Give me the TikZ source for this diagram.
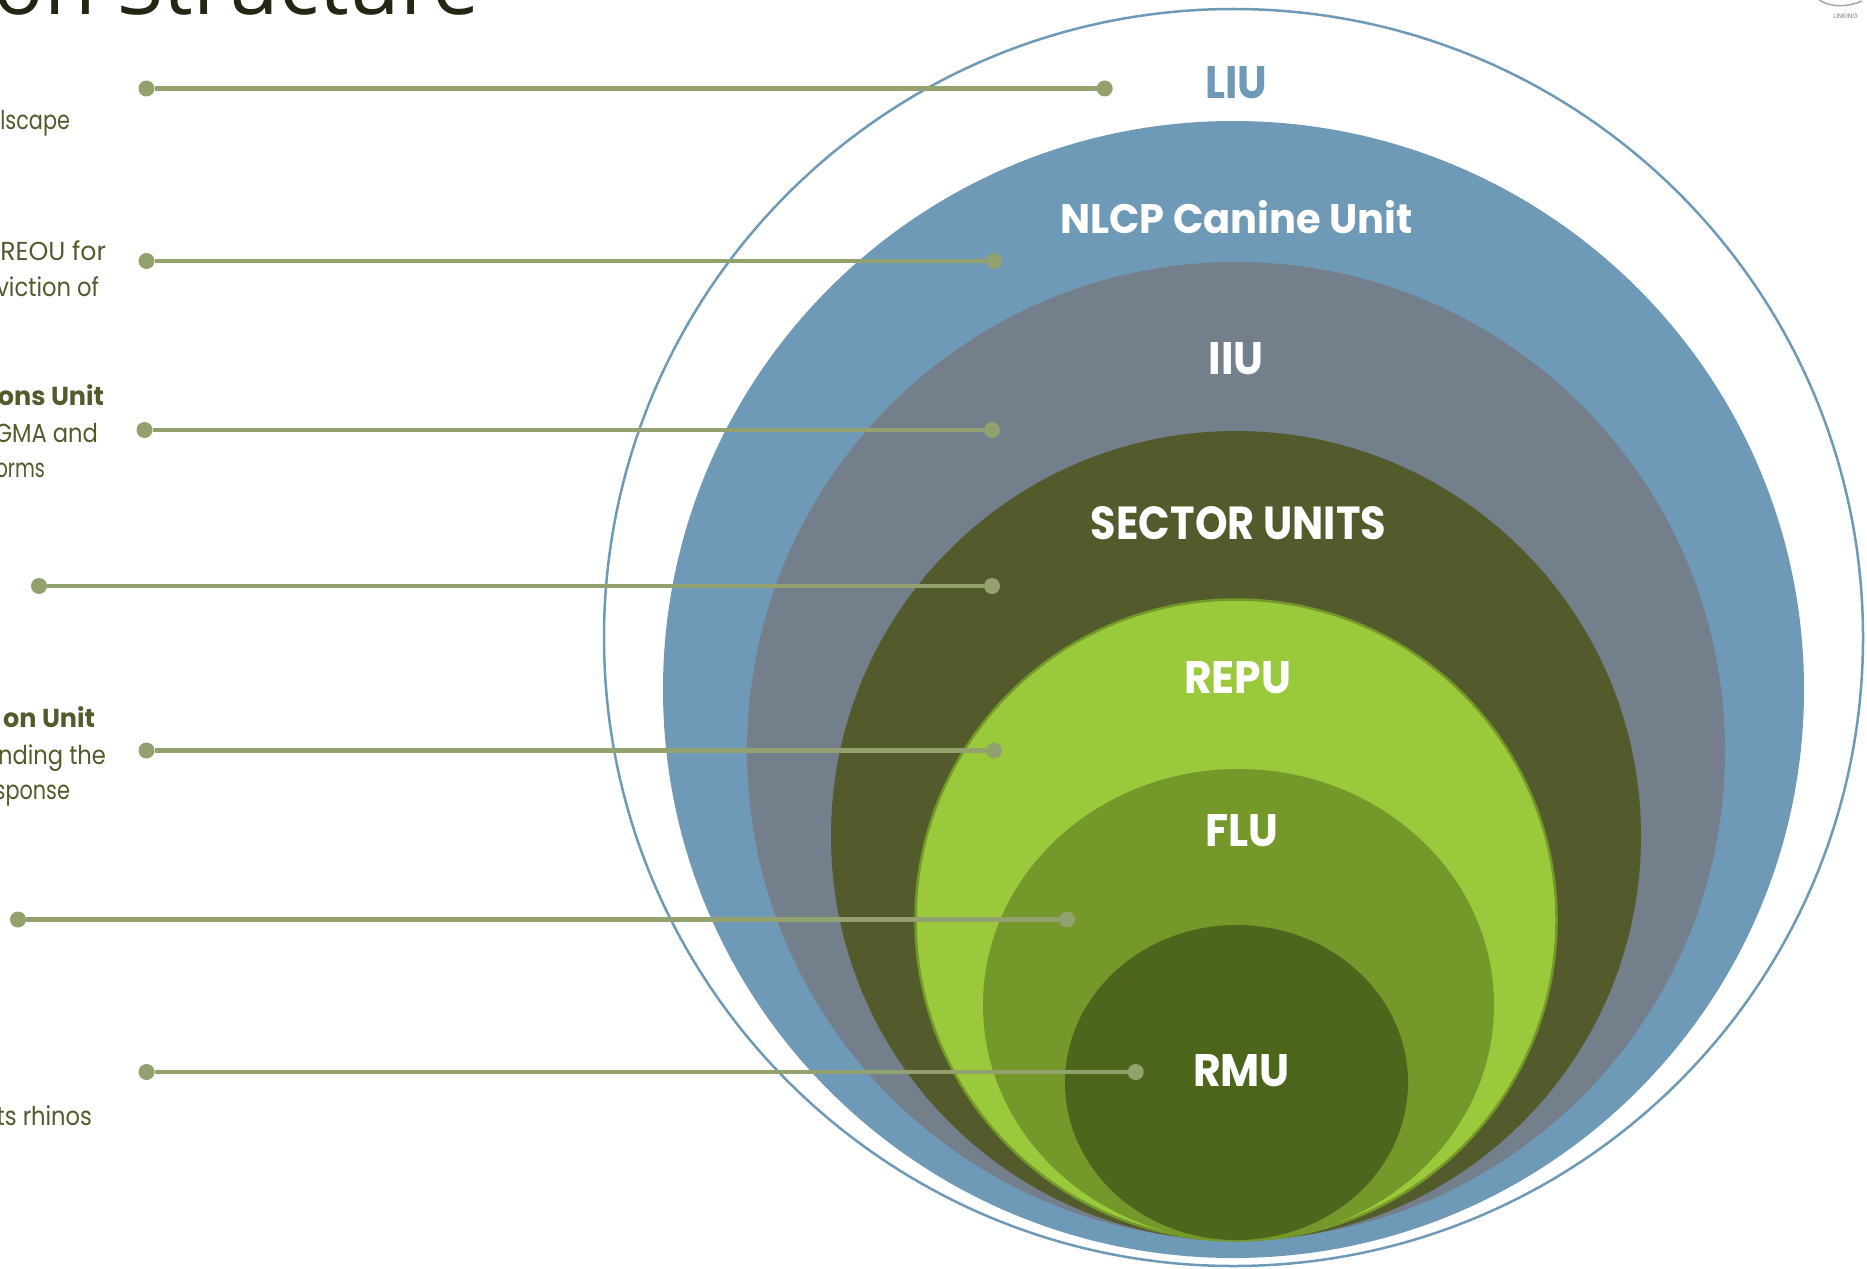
\documentclass[tikz,border=0pt]{standalone}
\usepackage{fontspec}
\usepackage{graphicx}
\setmainfont{Poppins}
\newfontfamily\titlefont{Open Sans}
\usetikzlibrary{shapes.geometric}
\definecolor{skyb}{HTML}{6E9AB7}
\definecolor{slategr}{HTML}{747F8C}
\definecolor{sector}{HTML}{535A2B}
\definecolor{repu}{HTML}{9ACA3C}
\definecolor{flu}{HTML}{74992A}
\definecolor{rmu}{HTML}{4E661C}
\definecolor{linec}{HTML}{93A16F}
\definecolor{titlec}{HTML}{222714}
\tikzset{
  ring/.style={ellipse,inner sep=0pt,outer sep=0pt,draw=none},
  dotend/.style={circle,fill=linec,inner sep=0pt,outer sep=0pt,minimum size=16pt},
  conn/.style={draw=linec,line width=4.2pt},
  unit/.style={inner sep=0pt,outer sep=0pt,text=white,font=\bfseries},
  side/.style={inner sep=0pt,outer sep=0pt,anchor=base east,text=sector,font=\fontsize{26}{30}\selectfont},
  sideb/.style={side,font=\fontsize{26}{30}\selectfont\bfseries}
}
\newcommand{\fitw}[3]{\resizebox{#1pt}{#2pt}{#3}}
\newcommand{\sq}[2]{\scalebox{#1}[1]{#2}}
\begin{document}
\begin{tikzpicture}[x=1pt,y=-1pt]
\useasboundingbox (0,0) rectangle (1867,1268);
\clip (0,0) rectangle (1867,1268);
% nested rings
\node[ring,draw=skyb,line width=2.5pt,fill=white,minimum width=1259pt,minimum height=1257pt] (rliu) at (1233.5,637.5) {};
\node[ring,fill=skyb,minimum width=1141pt,minimum height=1137pt] (rnlcp) at (1233.5,689.5) {};
\node[ring,fill=slategr,minimum width=978pt,minimum height=978pt] (riiu) at (1236,751) {};
\node[ring,fill=sector,minimum width=810pt,minimum height=810pt] (rsec) at (1236,836) {};
\node[ring,fill=repu,draw=flu,line width=2.5pt,minimum width=641pt,minimum height=641pt] (rrepu) at (1236,920) {};
\node[ring,fill=flu,minimum width=511pt,minimum height=472pt] (rflu) at (1238.5,1005) {};
\node[ring,fill=rmu,minimum width=343pt,minimum height=315pt] (rrmu) at (1236.5,1082.5) {};
% connectors
\node[dotend] (a1) at (146.5,88.5) {};
\node[dotend] (b1) at (1104.7,88.5) {};
\node[dotend] (a2) at (146.5,261) {};
\node[dotend] (b2) at (994,261) {};
\node[dotend] (a3) at (144.5,430) {};
\node[dotend] (b3) at (992,430) {};
\node[dotend] (a4) at (39,586) {};
\node[dotend] (b4) at (992,586) {};
\node[dotend] (a5) at (146.5,750.5) {};
\node[dotend] (b5) at (994,750.5) {};
\node[dotend] (a6) at (18,919.5) {};
\node[dotend] (b6) at (1067,919.5) {};
\node[dotend] (a7) at (146.5,1072) {};
\node[dotend] (b7) at (1135.7,1072) {};
\draw[conn] (a1) -- (b1);
\draw[conn] (a2) -- (b2);
\draw[conn] (a3) -- (b3);
\draw[conn] (a4) -- (b4);
\draw[conn] (a5) -- (b5);
\draw[conn] (a6) -- (b6);
\draw[conn] (a7) -- (b7);
% unit names
\node[unit,text=skyb] (tliu) at (1236,83) {\fitw{62}{32}{LIU}};
\node[unit] (tnlcp) at (1236.5,217) {\fitw{353}{33}{NLCP Canine Unit}};
\node[unit] (tiiu) at (1236,359) {\fitw{55}{32}{IIU}};
\node[unit] (tsec) at (1238.5,523) {\fitw{295}{33}{SECTOR UNITS}};
\node[unit] (trepu) at (1237.5,677.5) {\fitw{107}{32}{REPU}};
\node[unit] (tflu) at (1241.5,831) {\fitw{73}{32}{FLU}};
\node[unit] (trmu) at (1241.5,1071) {\fitw{97}{32}{RMU}};
% clipped side texts
\node[side] (s1) at (70,130) {\sq{0.80}{lscape}};
\node[side] (s2) at (106,260) {\sq{0.97}{REOU for}};
\node[side] (s3) at (99,296) {\sq{0.87}{viction of}};
\node[sideb] (s4) at (104,405) {\sq{0.98}{ons Unit}};
\node[side] (s5) at (98,442) {\sq{0.87}{GMA and}};
\node[side] (s6) at (45,477) {\sq{0.74}{orms}};
\node[sideb] (s7) at (95,727) {\sq{0.98}{on Unit}};
\node[side] (s8) at (106,764) {\sq{0.87}{nding the}};
\node[side] (s9) at (70,799) {\sq{0.80}{sponse}};
\node[side] (s10) at (92,1125) {\sq{0.87}{ts rhinos}};
% title
\node[inner sep=0pt,outer sep=0pt,anchor=base east,text=titlec,font=\titlefont\fontsize{84}{90}\selectfont] (ttl) at (480,14.5) {on Structure};
% logo fragment
\coordinate (lg1) at (1819,0);
\coordinate (lg2) at (1862,1);
\draw[gray!70,line width=1.5pt] (lg1) .. controls (1832,8) and (1848,7) .. (lg2);
\node[inner sep=0pt,outer sep=0pt,text=gray,font=\fontsize{6.5}{7}\selectfont] (logo) at (1845.5,16) {LINKING};
\end{tikzpicture}
\end{document}
